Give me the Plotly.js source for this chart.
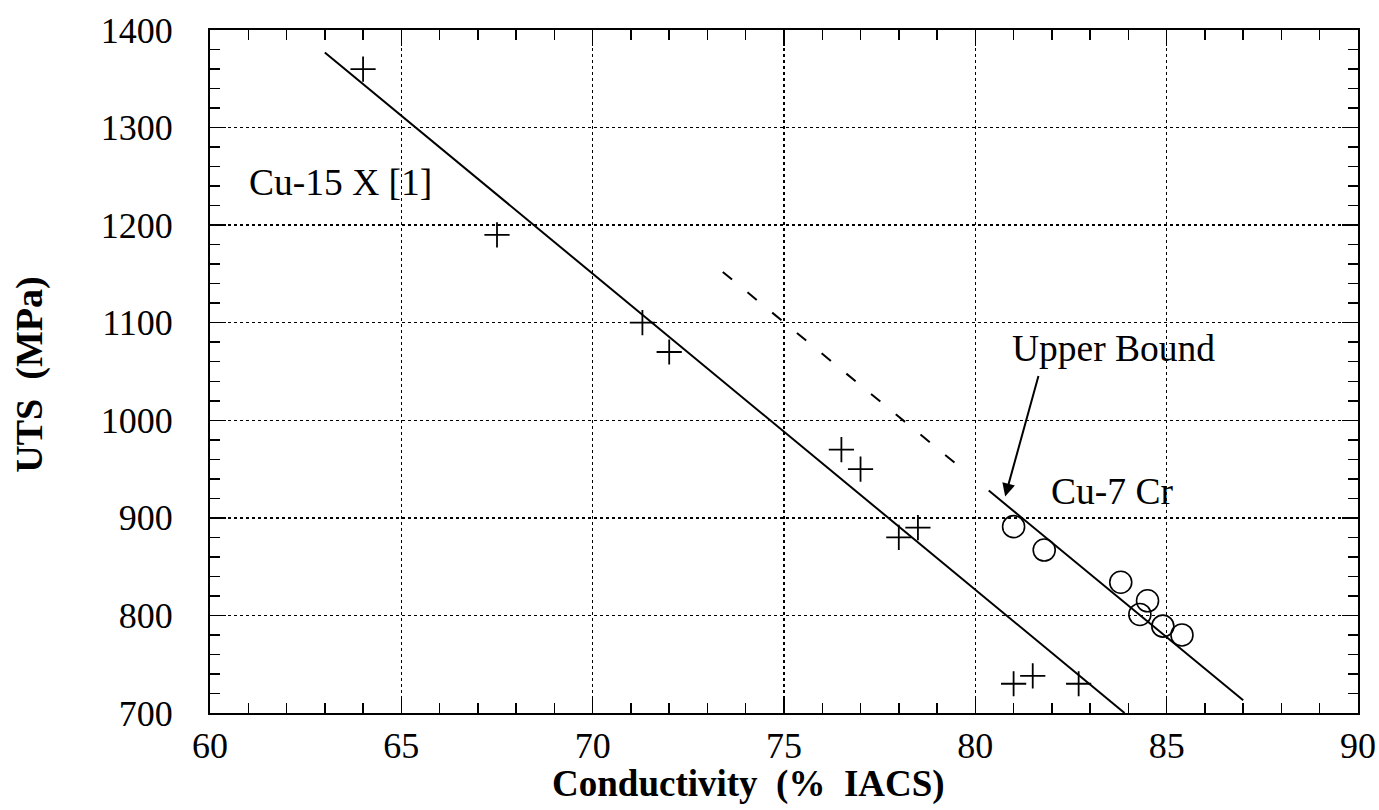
<!DOCTYPE html>
<html>
<head>
<meta charset="utf-8">
<script src="https://cdn.plot.ly/plotly-3.0.1.min.js"></script>
<style>html,body{margin:0;padding:0;background:#fff;}#chart{width:1379px;height:810px;}</style>
</head>
<body>
<div id="chart"></div>
<script>
// Cu-15 X [1] data (plus markers)
const plusX = [64, 67.5, 71.3, 72, 76.5, 77, 78, 78.5, 81, 81.5, 82.7];
const plusY = [1360, 1190, 1100, 1070, 970, 950, 880, 890, 730, 738, 730];
// Cu-7 Cr data (open circles)
const circX = [81, 81.8, 83.8, 84.5, 84.3, 84.9, 85.4];
const circY = [891, 867, 834, 815, 801, 789, 780];
// Fit line for Cu-15 X
const fitX = [63, 83.9];
const fitY = [1377, 700];
// Upper bound line
const upperX = [80.35, 87];
const upperY = [928, 713];
// Dashed extension
const dashX = [73.4, 79.6];
const dashY = [1152, 952];
// Axis ticks
const xTicks = [60, 65, 70, 75, 80, 85, 90];
const yTicks = [700, 800, 900, 1000, 1100, 1200, 1300, 1400];

const FONT = 'Liberation Serif, Times New Roman, serif';

const traces = [
  {x: fitX, y: fitY, mode: 'lines', line: {color: '#000', width: 2}, hoverinfo: 'skip'},
  {x: upperX, y: upperY, mode: 'lines', line: {color: '#000', width: 2}, hoverinfo: 'skip'},
  {x: dashX, y: dashY, mode: 'lines', line: {color: '#000', width: 2, dash: '12px,20px'}, hoverinfo: 'skip'},
  {x: plusX, y: plusY, mode: 'markers', marker: {symbol: 'cross-thin', size: 18, line: {color: '#000', width: 1.8}, color: '#000'}},
  {x: circX, y: circY, mode: 'markers', marker: {symbol: 'circle-open', size: 22, line: {color: '#000', width: 1.6}, color: '#000'}}
];

const axisCommon = {
  showline: true, linecolor: '#000', linewidth: 2, mirror: 'allticks',
  ticks: 'inside', ticklen: 16, tickwidth: 1.5, tickcolor: '#000',
  showgrid: true, gridcolor: '#000', gridwidth: 1.5, griddash: 'dot',
  zeroline: false,
  tickfont: {family: FONT, size: 36, color: '#000'}
};

const layout = {
  width: 1379, height: 810,
  margin: {l: 210, r: 21, t: 30, b: 97},
  paper_bgcolor: '#fff', plot_bgcolor: '#fff',
  showlegend: false,
  font: {family: FONT, color: '#000'},
  xaxis: Object.assign({}, axisCommon, {
    range: [60, 90], tickvals: xTicks, ticktext: xTicks.map(String),
    minor: {dtick: 1, ticklen: 10, tickwidth: 1.5, tickcolor: '#000', ticks: 'inside', showgrid: false}
  }),
  yaxis: Object.assign({}, axisCommon, {
    range: [700, 1400], tickvals: yTicks, ticktext: yTicks.map(String),
    ticklabelstandoff: 28,
    minor: {dtick: 20, ticklen: 10, tickwidth: 1.5, tickcolor: '#000', ticks: 'inside', showgrid: false}
  }),
  annotations: [
    {xref: 'paper', yref: 'paper', x: 0.469, y: -0.104, yanchor: 'middle', xanchor: 'center', showarrow: false,
     text: '<b>Conductivity\u00a0\u00a0(%\u00a0\u00a0IACS)</b>', font: {family: FONT, size: 37, color: '#000'}},
    {xref: 'paper', yref: 'paper', x: -0.157, y: 0.495, xanchor: 'center', yanchor: 'middle', textangle: -90, showarrow: false,
     text: '<b>UTS\u00a0\u00a0(MPa)</b>', font: {family: FONT, size: 38, color: '#000'}},
    {x: 63.42, y: 1244, showarrow: false, text: 'Cu-15 X [1]', font: {family: FONT, size: 37.5, color: '#000'}},
    {x: 83.57, y: 927, showarrow: false, text: 'Cu-7 Cr', font: {family: FONT, size: 37.5, color: '#000'}},
    {x: 83.6, y: 1074, showarrow: false, text: 'Upper Bound', font: {family: FONT, size: 37.5, color: '#000'}},
    {x: 80.78, y: 922, ax: 81.66, ay: 1047, axref: 'x', ayref: 'y', xref: 'x', yref: 'y', text: '',
     showarrow: true, arrowhead: 2, arrowsize: 1.3, arrowwidth: 2, arrowcolor: '#000'}
  ]
};

Plotly.newPlot('chart', traces, layout, {displayModeBar: false, staticPlot: true});
</script>
</body>
</html>
